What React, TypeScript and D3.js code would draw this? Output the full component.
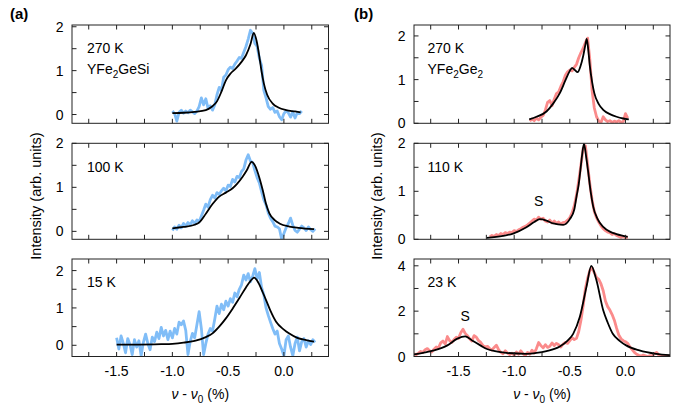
import React from "react";
import * as d3 from "d3";

const W = 677;
const H = 409;
const FONT = "'Liberation Sans', Arial, Helvetica, sans-serif";
const BLUE = "#80bdf7";
const RED = "#fb8b8b";
const STEP = 0.02;

// shared x axis
const xDomain = [-1.9, 0.4];
const xTicks = [-1.75, -1.5, -1.25, -1.0, -0.75, -0.5, -0.25, 0.0, 0.25];
const xTickLabels = [-1.5, -1.0, -0.5, 0.0];

// (a) YFe2GeSi, data sampled every STEP from the start value
const a270Start = -1.0;
const a270 = [0.08, 0.02, -0.15, 0.05, 0.1, 0.03, 0.08, 0.04, 0.1, 0.06, 0.02, 0.08, 0.18, 0.38, 0.22, 0.36, 0.14, 0.2, 0.1, 0.22,
  0.45, 0.62, 0.55, 0.85, 0.9, 1.02, 1.08, 1.05, 1.15, 1.22, 1.3, 1.28, 1.42, 1.55, 1.72, 1.92, 1.85, 1.62, 1.55, 1.28,
  1.12, 0.55, 0.38, 0.18, 0.12, 0.16, 0.05, 0.08, -0.05, -0.12, 0.02, 0.08, 0.04, -0.06, 0.06, -0.08, 0.04, 0.02, 0.08];
const a270FitX = [-1.0, -0.9, -0.8, -0.7, -0.65, -0.6, -0.56, -0.52, -0.48, -0.43, -0.38, -0.34, -0.3, -0.27, -0.245, -0.22, -0.2, -0.18, -0.15, -0.1, -0.05, 0.02, 0.1, 0.15];
const a270FitY = [0.03, 0.04, 0.06, 0.1, 0.17, 0.3, 0.52, 0.78, 0.93, 1.05, 1.2, 1.35, 1.6, 1.86, 1.68, 1.32, 0.98, 0.71, 0.45, 0.25, 0.16, 0.1, 0.07, 0.05];

const a100Start = -1.0;
const a100 = [0.02, 0.1, 0.05, 0.14, 0.08, 0.18, 0.12, 0.2, 0.15, 0.24, 0.18, 0.26, 0.22, 0.35, 0.48, 0.62, 0.55, 0.72, 0.82, 0.76,
  0.88, 0.84, 0.92, 0.98, 0.92, 1.05, 1.02, 1.18, 1.12, 1.25, 1.22, 1.36, 1.42, 1.62, 1.74, 1.6, 1.56, 1.38, 1.22, 1.1,
  0.9, 0.72, 0.6, 0.42, 0.3, 0.22, 0.12, 0.1, 0.06, -0.18, -0.05, 0.08, 0.18, 0.3, 0.14, 0.02, -0.02, 0.05, 0.12, 0.08,
  0.02, 0.1, 0.04, 0.0, 0.06];
const a100FitX = [-1.0, -0.9, -0.8, -0.76, -0.7, -0.64, -0.58, -0.52, -0.46, -0.42, -0.37, -0.33, -0.29, -0.26, -0.22, -0.19, -0.16, -0.13, -0.08, -0.04, 0.05, 0.13, 0.27];
const a100FitY = [0.07, 0.1, 0.15, 0.2, 0.4, 0.62, 0.79, 0.88, 0.98, 1.08, 1.24, 1.4, 1.58, 1.5, 1.22, 0.94, 0.62, 0.41, 0.25, 0.18, 0.11, 0.08, 0.05];

const a15Start = -1.5;
const a15 = [0.2, -0.1, 0.25, 0.05, -0.2, 0.18, 0.02, -0.25, 0.15, -0.05, 0.12, -0.28, 0.08, 0.3, 0.05, -0.12, 0.22, 0.1, 0.35, 0.18,
  0.48, 0.25, 0.4, 0.15, 0.38, 0.2, 0.45, 0.3, 0.62, 0.55, 0.65, 0.4, -0.25, 0.1, 0.32, 0.2, 0.55, 0.9, 0.45, -0.25,
  0.05, 0.3, 0.45, 0.38, 0.7, 1.05, 0.85, 1.1, 0.95, 1.18, 1.05, 1.25, 1.15, 1.4, 1.3, 1.5, 1.62, 1.88, 1.75, 1.92,
  1.7, 1.85, 2.05, 1.78, 1.95, 1.55, 1.35, 1.0, 0.8, 0.62, 0.45, 0.3, 0.38, 0.05, -0.1, -0.28, 0.15, 0.25, -0.05, -0.28,
  0.05, 0.22, -0.15, 0.1, 0.18, -0.05, 0.12, 0.02, 0.15, 0.08];
const a15FitX = [-1.5, -1.3, -1.1, -1.0, -0.9, -0.8, -0.7, -0.64, -0.58, -0.52, -0.46, -0.4, -0.34, -0.3, -0.267, -0.23, -0.19, -0.16, -0.12, -0.07, 0.0, 0.045, 0.12, 0.2, 0.27];
const a15FitY = [0.02, 0.02, 0.03, 0.04, 0.07, 0.12, 0.22, 0.32, 0.5, 0.72, 0.98, 1.26, 1.55, 1.72, 1.81, 1.68, 1.42, 1.21, 0.92, 0.63, 0.42, 0.32, 0.2, 0.14, 0.1];

// (b) YFe2Ge2
const b270Start = -0.86;
const b270 = [0.05, 0.1, 0.06, 0.12, 0.08, 0.14, 0.18, 0.3, 0.48, 0.52, 0.4, 0.55, 0.68, 0.72, 0.85, 0.95, 1.1, 1.18, 1.22, 1.2,
  1.28, 1.35, 1.5, 1.62, 1.72, 1.85, 1.95, 1.45, 0.75, 0.35, 0.15, 0.05, 0.02, 0.15, 0.08, 0.04, 0.06, 0.02, 0.05, 0.03,
  0.06, 0.02, 0.04, 0.22, 0.12];
const b270FitX = [-0.865, -0.8, -0.71, -0.65, -0.59, -0.54, -0.5, -0.48, -0.455, -0.43, -0.405, -0.38, -0.36, -0.348, -0.335, -0.32, -0.3, -0.28, -0.24, -0.2, -0.14, -0.08, -0.02, 0.03];
const b270FitY = [0.09, 0.15, 0.27, 0.45, 0.69, 0.98, 1.2, 1.27, 1.22, 1.17, 1.3, 1.54, 1.8, 1.93, 1.7, 1.31, 0.95, 0.69, 0.44, 0.31, 0.21, 0.15, 0.11, 0.09];

const b110Start = -1.22;
const b110 = [0.05, 0.08, 0.06, 0.1, 0.08, 0.12, 0.1, 0.14, 0.12, 0.15, 0.14, 0.18, 0.16, 0.2, 0.22, 0.25, 0.27, 0.3, 0.34, 0.38,
  0.42, 0.4, 0.46, 0.42, 0.44, 0.38, 0.36, 0.4, 0.34, 0.38, 0.33, 0.36, 0.32, 0.35, 0.36, 0.4, 0.45, 0.55, 0.7, 0.92,
  1.22, 1.55, 1.9, 1.95, 1.55, 1.15, 0.82, 0.58, 0.45, 0.36, 0.28, 0.22, 0.18, 0.15, 0.14, 0.1, 0.12, 0.08, 0.06, 0.04,
  0.06, 0.03, 0.05];
const b110FitX = [-1.246, -1.1, -1.01, -0.89, -0.82, -0.77, -0.71, -0.65, -0.56, -0.5, -0.46, -0.44, -0.42, -0.405, -0.39, -0.373, -0.355, -0.337, -0.31, -0.29, -0.25, -0.2, -0.14, -0.08, 0.02];
const b110FitY = [0.03, 0.07, 0.12, 0.25, 0.36, 0.42, 0.39, 0.33, 0.3, 0.42, 0.62, 0.89, 1.15, 1.44, 1.75, 1.99, 1.75, 1.44, 0.95, 0.68, 0.42, 0.26, 0.16, 0.11, 0.05];

const b23Start = -1.9;
const b23 = [0.12, 0.08, 0.15, 0.22, 0.18, 0.3, 0.35, 0.25, 0.2, 0.32, 0.42, 0.38, 0.6, 0.68, 0.55, 0.88, 0.7, 0.62, 0.75, 0.85,
  0.8, 1.05, 1.2, 1.02, 0.92, 0.78, 0.68, 0.92, 0.85, 0.7, 0.62, 0.48, 0.42, 0.45, 0.35, 0.28, 0.4, 0.5, 0.3, 0.18,
  0.12, 0.25, 0.15, 0.08, 0.15, 0.05, 0.2, 0.1, 0.25, 0.12, 0.05, 0.18, 0.1, 0.28, 0.15, 0.35, 0.62, 0.48, 0.38, 0.52,
  0.4, 0.45, 0.6, 0.48, 0.58, 0.52, 0.42, 0.55, 0.62, 0.58, 0.7, 0.82, 0.75, 0.8, 1.1, 1.6, 2.25, 3.0, 3.45, 3.8,
  3.9, 3.7, 3.48, 3.4, 3.2, 2.9, 2.45, 2.2, 2.05, 1.85, 1.6, 1.25, 0.95, 0.78, 0.7, 0.65, 0.58, 0.42, 0.3, 0.18,
  0.1, 0.05, 0.02, 0.06, 0.03, 0.0, 0.04, 0.02, 0.12, 0.18, 0.06, 0.02, 0.03, 0.01, 0.02, 0.01];
const b23FitX = [-1.9, -1.8, -1.72, -1.6, -1.51, -1.44, -1.37, -1.3, -1.25, -1.15, -1.07, -0.89, -0.8, -0.71, -0.59, -0.52, -0.47, -0.41, -0.35, -0.307, -0.262, -0.2, -0.16, -0.114, -0.05, 0.006, 0.125, 0.275, 0.4];
const b23FitY = [0.09, 0.18, 0.27, 0.49, 0.79, 0.89, 0.68, 0.48, 0.34, 0.22, 0.16, 0.12, 0.16, 0.24, 0.44, 0.7, 1.0, 1.75, 3.08, 4.0, 3.38, 2.04, 1.5, 1.0, 0.68, 0.49, 0.27, 0.12, 0.06];

const colA = { left: 72, right: 328.5 };
const colB = { left: 414, right: 670 };
const rows = [
  { top: 25, bottom: 123.3 },
  { top: 143.3, bottom: 239.3 },
  { top: 259, bottom: 356.5 },
];

const toPoints = (start, ys) => ys.map((v, i) => [start + i * STEP, v]);
const zipPoints = (xs, ys) => xs.map((x, i) => [x, ys[i]]);

const panels = [
  { id: "a0", col: colA, row: 0, yDomain: [-0.2, 2.04], yTicks: [0, 0.5, 1, 1.5, 2], yLabels: [0, 1, 2],
    data: toPoints(a270Start, a270), fit: zipPoints(a270FitX, a270FitY), color: BLUE, temp: "270 K", compound: "GeSi" },
  { id: "a1", col: colA, row: 1, yDomain: [-0.18, 2.0], yTicks: [0, 0.5, 1, 1.5, 2], yLabels: [0, 1, 2],
    data: toPoints(a100Start, a100), fit: zipPoints(a100FitX, a100FitY), color: BLUE, temp: "100 K" },
  { id: "a2", col: colA, row: 2, yDomain: [-0.3, 2.31], yTicks: [0, 0.5, 1, 1.5, 2], yLabels: [0, 1, 2],
    data: toPoints(a15Start, a15), fit: zipPoints(a15FitX, a15FitY), color: BLUE, temp: "15 K" },
  { id: "b0", col: colB, row: 0, yDomain: [0, 2.25], yTicks: [0, 0.5, 1, 1.5, 2], yLabels: [0, 1, 2],
    data: toPoints(b270Start, b270), fit: zipPoints(b270FitX, b270FitY), color: RED, temp: "270 K", compound: "Ge2" },
  { id: "b1", col: colB, row: 1, yDomain: [0, 2.0], yTicks: [0, 0.5, 1, 1.5, 2], yLabels: [0, 1, 2],
    data: toPoints(b110Start, b110), fit: zipPoints(b110FitX, b110FitY), color: RED, temp: "110 K", s: [-0.78, 0.7] },
  { id: "b2", col: colB, row: 2, yDomain: [0, 4.3], yTicks: [0, 1, 2, 3, 4], yLabels: [0, 2, 4],
    data: toPoints(b23Start, b23), fit: zipPoints(b23FitX, b23FitY), color: RED, temp: "23 K", s: [-1.44, 1.56] },
];

function Panel({ p }) {
  const { left, right } = p.col;
  const { top, bottom } = rows[p.row];
  const x = d3.scaleLinear().domain(xDomain).range([left, right]);
  const y = d3.scaleLinear().domain(p.yDomain).range([bottom, top]);
  const line = d3.line().x((d) => x(d[0])).y((d) => y(d[1]));
  const fitLine = d3.line().x((d) => x(d[0])).y((d) => y(d[1])).curve(d3.curveMonotoneX);
  const tl = 4.5;
  const showX = p.row === 2;
  const tx = left + (p.col === colA ? 15 : 13.5);
  const ty = top + 28.3;

  return (
    <g>
      <clipPath id={`clip-${p.id}`}>
        <rect x={left} y={top} width={right - left} height={bottom - top} />
      </clipPath>
      <g clipPath={`url(#clip-${p.id})`}>
        <path d={line(p.data)} fill="none" stroke={p.color} strokeWidth={2.8} strokeLinejoin="round" />
        <path d={fitLine(p.fit)} fill="none" stroke="#000" strokeWidth={1.8} />
      </g>
      <rect x={left} y={top} width={right - left} height={bottom - top} fill="none" stroke="#222" strokeWidth={1} />
      {xTicks.map((t) => (
        <g key={`x${t}`} stroke="#222" strokeWidth={1}>
          <line x1={x(t)} x2={x(t)} y1={bottom} y2={bottom - tl} />
          <line x1={x(t)} x2={x(t)} y1={top} y2={top + tl} />
        </g>
      ))}
      {p.yTicks.map((t) => (
        <g key={`y${t}`} stroke="#222" strokeWidth={1}>
          <line x1={left} x2={left + tl} y1={y(t)} y2={y(t)} />
          <line x1={right} x2={right - tl} y1={y(t)} y2={y(t)} />
        </g>
      ))}
      {p.yLabels.map((t) => (
        <text key={`yl${t}`} x={left - 8.5} y={y(t) + 5} textAnchor="end" fontSize={14} fontFamily={FONT}>
          {t}
        </text>
      ))}
      {showX &&
        xTickLabels.map((t) => (
          <text key={`xl${t}`} x={x(t)} y={bottom + 19.5} textAnchor="middle" fontSize={14} fontFamily={FONT}>
            {d3.format(".1f")(t).replace("−", "-")}
          </text>
        ))}
      <text x={tx} y={ty} fontSize={14} fontFamily={FONT}>{p.temp}</text>
      {p.compound === "GeSi" && (
        <text x={tx} y={ty + 20.7} fontSize={14} fontFamily={FONT}>
          YFe<tspan fontSize={10} dy={4}>2</tspan><tspan dy={-4}>GeSi</tspan>
        </text>
      )}
      {p.compound === "Ge2" && (
        <text x={tx} y={ty + 20.7} fontSize={14} fontFamily={FONT}>
          YFe<tspan fontSize={10} dy={4}>2</tspan><tspan dy={-4}>Ge</tspan><tspan fontSize={10} dy={4}>2</tspan>
        </text>
      )}
      {p.s && (
        <text x={x(p.s[0])} y={y(p.s[1])} textAnchor="middle" fontSize={14} fontFamily={FONT}>S</text>
      )}
    </g>
  );
}

function XLabel({ col }) {
  const cx = (col.left + col.right) / 2;
  return (
    <text x={cx} y={399} textAnchor="middle" fontSize={14} fontFamily={FONT}>
      <tspan fontStyle="italic">ν</tspan> - <tspan fontStyle="italic">ν</tspan>
      <tspan fontSize={10} dy={4}>0</tspan>
      <tspan dy={-4}> (%)</tspan>
    </text>
  );
}

export default function App() {
  const midY = 196;
  return (
    <svg width={W} height={H} style={{ position: "absolute", left: 0, top: 0, background: "#fff" }}>
      <text x={10} y={19} fontSize={15} fontWeight="bold" fontFamily={FONT}>(a)</text>
      <text x={354} y={19} fontSize={15} fontWeight="bold" fontFamily={FONT}>(b)</text>
      <text transform={`translate(41,${midY}) rotate(-90)`} textAnchor="middle" fontSize={14.5} fontFamily={FONT}>
        Intensity (arb. units)
      </text>
      <text transform={`translate(382,${midY}) rotate(-90)`} textAnchor="middle" fontSize={14.5} fontFamily={FONT}>
        Intensity (arb. units)
      </text>
      {panels.map((p) => (
        <Panel key={p.id} p={p} />
      ))}
      <XLabel col={colA} />
      <XLabel col={colB} />
    </svg>
  );
}
